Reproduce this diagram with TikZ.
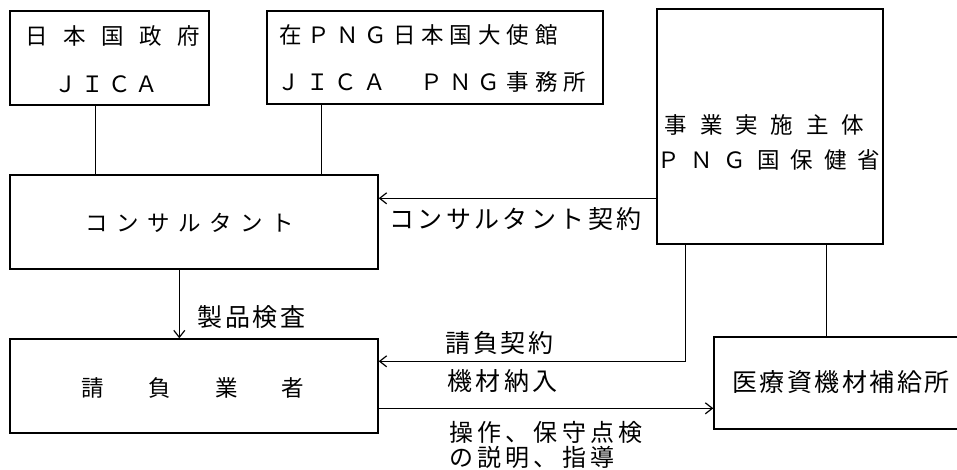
\documentclass[tikz,border=0pt]{standalone}
\usepackage{fontspec}
\setmainfont{Noto Sans CJK JP}
\usetikzlibrary{arrows.meta}
\makeatletter
\newcommand{\spread}[2]{\@tfor\sp@ch:=#2\do{\makebox[#1][c]{\sp@ch}}}
\makeatother
\tikzset{
  box/.style={draw, line width=1.4pt, inner sep=0pt},
  conn/.style={line width=1.4pt},
  arr/.style={line width=1.2pt, -{Straight Barb[length=7pt,width=11pt]}},
  boxtxt/.style={inner sep=0pt, font=\fontsize{22.5pt}{22.5pt}\selectfont},
  lbl/.style={inner sep=0pt, font=\fontsize{25pt}{25pt}\selectfont},
  lbls/.style={inner sep=0pt, font=\fontsize{24pt}{24pt}\selectfont}
}
\begin{document}
\begin{tikzpicture}[x=1pt,y=-1pt]
\useasboundingbox (0,0) rectangle (957,469);
\fill[white] (0,0) rectangle (957,469);
\begin{scope}
\clip (0,0) rectangle (957,469);
% boxes
\node[box, minimum width=199pt, minimum height=94pt] (gov) at (109.5,58) {};
\node[box, minimum width=336pt, minimum height=93pt] (emb) at (435,57.5) {};
\node[box, minimum width=226pt, minimum height=235pt] (moh) at (770,126.5) {};
\node[box, minimum width=368pt, minimum height=94pt] (cons) at (194,222) {};
\node[box, minimum width=368pt, minimum height=94pt] (cont) at (194,386) {};
\node[box, minimum width=262pt, minimum height=92pt] (med) at (845,383) {};
% box texts
\node[boxtxt] (govA) at (113,36) {\spread{38pt}{日本国政府}};
\node[boxtxt] (govB) at (106.5,84) {\spread{27pt}{ＪＩＣＡ}};
\node[boxtxt] (embA) at (418.5,35) {\spread{28.4pt}{在ＰＮＧ日本国大使館}};
\node[boxtxt] (embB) at (432,82) {\spread{28.6pt}{ＪＩＣＡ　ＰＮＧ事務所}};
\node[boxtxt] (mohA) at (764.5,125) {\spread{35.4pt}{事業実施主体}};
\node[boxtxt] (mohB) at (768.5,160) {\spread{33.4pt}{ＰＮＧ国保健省}};
\node[boxtxt] (consT) at (190,223) {\spread{31pt}{コンサルタント}};
\node[boxtxt] (contT) at (193,388) {\spread{66.7pt}{請負業者}};
\node[lbl] (medT) at (841,382) {\spread{27.5pt}{医療資機材補給所}};
% connectors
\draw[conn] ([xshift=86pt]gov.south west) -- ([xshift=86pt]cons.north west);
\draw[conn] ([xshift=55pt]emb.south west) coordinate (e1) -- (e1 |- cons.north);
\coordinate (c1) at ([yshift=-24pt]cons.north east);
\draw[arr] (moh.west |- c1) -- (c1);
\draw[arr] ([xshift=170pt]cons.south west) -- ([xshift=170pt]cont.north west);
\draw[arr] ([xshift=29pt]moh.south west) |- ([yshift=-23pt]cont.north east);
\draw[conn] ([xshift=170pt]moh.south west) coordinate (m2) -- (m2 |- med.north);
\coordinate (k1) at ([yshift=-70pt]cont.north east);
\draw[arr] (k1) -- (k1 -| med.west);
% labels
\node[lbl] (lcons) at (515.5,219) {\spread{28.4pt}{コンサルタント契約}};
\node[lbl] (lprod) at (251.5,317) {\spread{27.7pt}{製品検査}};
\node[lbl] (lcontr) at (499.5,343) {\spread{27.7pt}{請負契約}};
\node[lbl] (ldeliv) at (502.5,381) {\spread{28.3pt}{機材納入}};
\node[lbls] (lop1) at (546,432) {\spread{28.3pt}{操作、保守点検}};
\node[lbls, anchor=west] (lop2) at (lop1.west |- 0,457) {\spread{28.3pt}{の説明、指導}};
\end{scope}
\end{tikzpicture}
\end{document}
